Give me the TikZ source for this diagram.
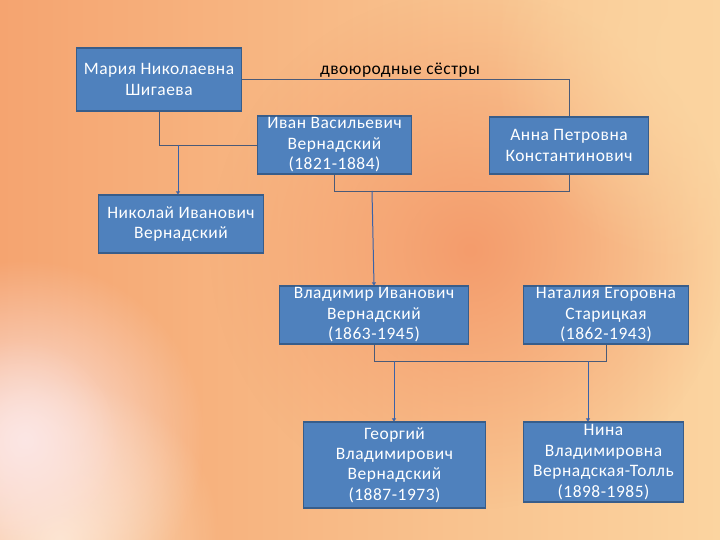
\documentclass[tikz,border=0pt]{standalone}
\usepackage{fontspec}
\setmainfont{Carlito}[LetterSpace=3]
\usetikzlibrary{arrows.meta,fadings}
\definecolor{boxfill}{HTML}{4F81BD}
\definecolor{boxdraw}{HTML}{385D8A}
\definecolor{linecol}{HTML}{4A5A78}
\definecolor{arrcol}{HTML}{3A62A8}
\definecolor{bgA}{HTML}{F5A470}
\definecolor{bgB}{HTML}{FBD4A0}
\definecolor{bgC}{HTML}{F49C6C}
\definecolor{glowcol}{HTML}{FCE6E4}
\tikzfading[name=glow, inner color=transparent!0, outer color=transparent!100]
\tikzset{
  person/.style={draw=boxdraw, line width=1.4pt, fill=boxfill, text=white,
    align=center, inner sep=0pt, font=\fontsize{17.5}{20.5}\selectfont},
  link/.style={draw=linecol, line width=0.9pt},
  child/.style={draw=arrcol, line width=1pt, -{Triangle[width=4pt,length=3pt]}},
  note/.style={text=black, font=\fontsize{17.5}{20.5}\selectfont, inner sep=0pt}
}
\begin{document}
\begin{tikzpicture}[x=1bp,y=-1bp]
\useasboundingbox (0,0) rectangle (720,540);
% background
\shade[left color=bgA, right color=bgB] (0,0) rectangle (720,540);
\fill[bgC, path fading=glow] (470,250) circle (260);
\fill[bgB, path fading=glow] (710,50) circle (220);
\fill[bgB!60!white, path fading=glow] (60,540) circle (160);
\fill[glowcol, path fading=glow] (25,440) circle (180);
\fill[glowcol, path fading=glow, opacity=0.6] (20,440) circle (100);
% nodes
\node[person, minimum width=166, minimum height=63] (maria) at (159,79.5) {Мария Николаевна\\Шигаева};
\node[person, minimum width=155, minimum height=58] (ivan) at (334.5,145) {Иван Васильевич\\Вернадский\\(1821-1884)};
\node[person, minimum width=160, minimum height=57] (anna) at (569,145.5) {Анна Петровна\\Константинович};
\node[person, minimum width=166, minimum height=58] (nikolai) at (181,224) {Николай Иванович\\Вернадский};
\node[person, minimum width=190, minimum height=58] (vlad) at (374,315) {Владимир Иванович\\Вернадский\\(1863-1945)};
\node[person, minimum width=166, minimum height=58] (nat) at (606,315) {Наталия Егоровна\\Старицкая\\(1862-1943)};
\node[person, minimum width=183, minimum height=86] (geo) at (394.5,465) {Георгий\\Владимирович\\Вернадский\\(1887-1973)};
\node[person, minimum width=161, minimum height=80] (nina) at (603.5,462) {Нина\\Владимировна\\Вернадская-Толль\\(1898-1985)};
\node[note] (lbl) at (400,70) {двоюродные сёстры};
% connectors
\draw[link] (maria.east) -| (anna.north);
\draw[link] (maria.south) |- (ivan.west);
\coordinate (c1) at (178,145);
\draw[child] (c1) -- (c1 |- nikolai.north);
\draw[link] (ivan.south) -- ++(0,17) -| (anna.south);
\coordinate (c2) at (372,191);
\draw[child] (c2) -- (vlad.north);
\draw[link] (vlad.south) -- ++(0,17) -| (nat.south);
\coordinate (c3) at (394,361);
\coordinate (c4) at (588,361);
\draw[child] (c3) -- (c3 |- geo.north);
\draw[child] (c4) -- (c4 |- nina.north);
\end{tikzpicture}
\end{document}
